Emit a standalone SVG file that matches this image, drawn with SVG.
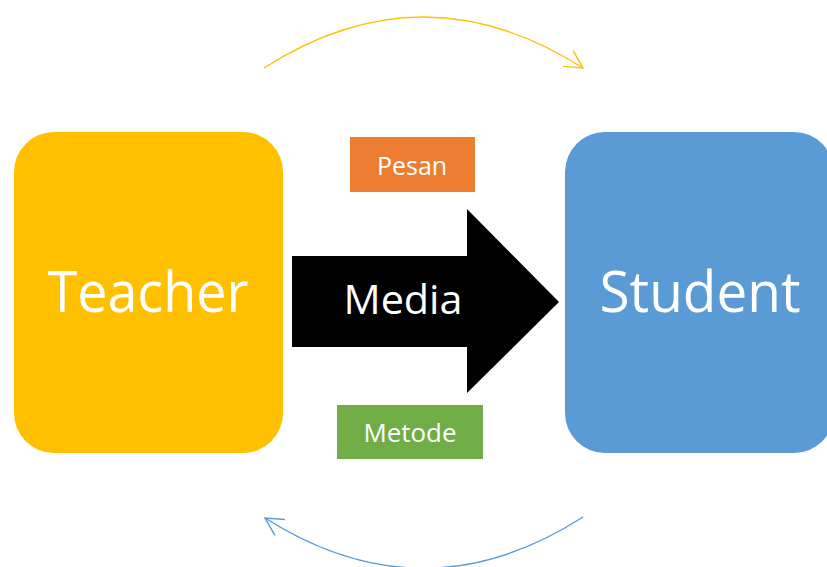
<svg xmlns="http://www.w3.org/2000/svg" width="827" height="567" viewBox="0 0 827 567">
<style>
text{font-family:"Open Sans","Noto Sans","Liberation Sans",sans-serif;fill:#fff;text-anchor:middle}
.big{font-size:56px}
.mid{font-size:41px}
.sm{font-size:25px}
.arc{fill:none;stroke-width:1.4}
</style>
<defs>
<marker id="ay" markerUnits="userSpaceOnUse" markerWidth="30" markerHeight="30" refX="0" refY="0" viewBox="-25 -15 30 30" orient="auto" overflow="visible">
<path d="M-17.7,-9.4 L0,0 L-17.7,9.4" fill="none" stroke="#FFC000" stroke-width="1.4"/>
</marker>
<marker id="ab" markerUnits="userSpaceOnUse" markerWidth="30" markerHeight="30" refX="0" refY="0" viewBox="-25 -15 30 30" orient="auto" overflow="visible">
<path d="M-17.7,-9.4 L0,0 L-17.7,9.4" fill="none" stroke="#5B9BD5" stroke-width="1.4"/>
</marker>
</defs>
<rect width="827" height="567" fill="#fff"/>
<g id="connectors">
<path class="arc" d="M264,68 Q423,-34 583,68" stroke="#FFC000" marker-end="url(#ay)"/>
<path class="arc" d="M583,517 Q424,619 265,518" stroke="#5B9BD5" marker-end="url(#ab)"/>
</g>
<g id="teacher">
<rect x="14" y="132" width="269" height="321" rx="40" fill="#FFC000"/>
<text class="big" x="148" y="312" textLength="201" lengthAdjust="spacingAndGlyphs">Teacher</text>
</g>
<g id="student">
<rect x="565" y="132" width="269" height="321" rx="40" fill="#5B9BD5"/>
<text class="big" x="700" y="312" textLength="201" lengthAdjust="spacingAndGlyphs">Student</text>
</g>
<g id="media">
<path d="M292,256 L467,256 L467,209 L559,302 L467,393 L467,347 L292,347 Z" fill="#000"/>
<text class="mid" x="403" y="314" textLength="119" lengthAdjust="spacingAndGlyphs">Media</text>
</g>
<g id="pesan">
<rect x="350" y="137" width="125" height="55" fill="#ED7D31"/>
<text class="sm" x="412" y="175">Pesan</text>
</g>
<g id="metode">
<rect x="337" y="405" width="146" height="54" fill="#70AD47"/>
<text class="sm" x="410" y="442" textLength="93" lengthAdjust="spacingAndGlyphs">Metode</text>
</g>
</svg>
